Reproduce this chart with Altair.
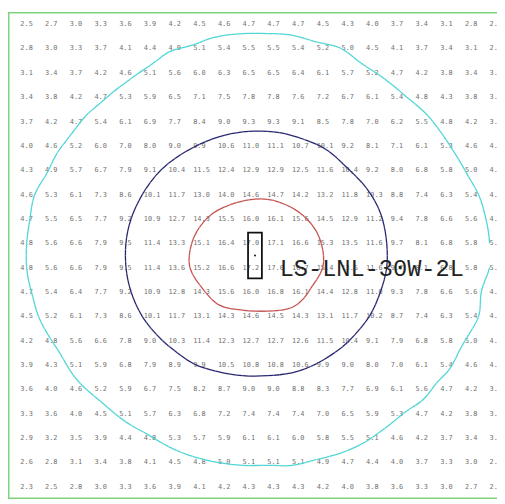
import altair as alt
import numpy as np
import pandas as pd

# Illuminance values (lux) read row by row, top to bottom, left to right
row_00 = [2.5, 2.7, 3.0, 3.3, 3.6, 3.9, 4.2, 4.5, 4.6, 4.7, 4.7, 4.7, 4.5, 4.3, 4.0, 3.7, 3.4, 3.1, 2.8, 2.5]
row_01 = [2.8, 3.0, 3.3, 3.7, 4.1, 4.4, 4.9, 5.1, 5.4, 5.5, 5.5, 5.4, 5.2, 5.0, 4.5, 4.1, 3.7, 3.4, 3.1, 2.8]
row_02 = [3.1, 3.4, 3.7, 4.2, 4.6, 5.1, 5.6, 6.0, 6.3, 6.5, 6.5, 6.4, 6.1, 5.7, 5.2, 4.7, 4.2, 3.8, 3.4, 3.1]
row_03 = [3.4, 3.8, 4.2, 4.7, 5.3, 5.9, 6.5, 7.1, 7.5, 7.8, 7.8, 7.6, 7.2, 6.7, 6.1, 5.4, 4.8, 4.3, 3.8, 3.4]
row_04 = [3.7, 4.2, 4.7, 5.4, 6.1, 6.9, 7.7, 8.4, 9.0, 9.3, 9.3, 9.1, 8.5, 7.8, 7.0, 6.2, 5.5, 4.8, 4.2, 3.7]
row_05 = [4.0, 4.6, 5.2, 6.0, 7.0, 8.0, 9.0, 9.9, 10.6, 11.0, 11.1, 10.7, 10.1, 9.2, 8.1, 7.1, 6.1, 5.3, 4.6, 4.1]
row_06 = [4.3, 4.9, 5.7, 6.7, 7.9, 9.1, 10.4, 11.5, 12.4, 12.9, 12.9, 12.5, 11.6, 10.4, 9.2, 8.0, 6.8, 5.8, 5.0, 4.3]
row_07 = [4.6, 5.3, 6.1, 7.3, 8.6, 10.1, 11.7, 13.0, 14.0, 14.6, 14.7, 14.2, 13.2, 11.8, 10.3, 8.8, 7.4, 6.3, 5.4, 4.7]
row_08 = [4.7, 5.5, 6.5, 7.7, 9.2, 10.9, 12.7, 14.3, 15.5, 16.0, 16.1, 15.6, 14.5, 12.9, 11.2, 9.4, 7.8, 6.6, 5.6, 4.9]
row_09 = [4.8, 5.6, 6.6, 7.9, 9.5, 11.4, 13.3, 15.1, 16.4, 17.0, 17.1, 16.6, 15.3, 13.5, 11.6, 9.7, 8.1, 6.8, 5.8, 5.0]
row_10 = [4.8, 5.6, 6.6, 7.9, 9.5, 11.4, 13.6, 15.2, 16.6, 17.2, 17.6, 16.7, 15.4, 13.6, 11.6, 9.7, 8.1, 6.8, 5.8, 5.0]
row_11 = [4.7, 5.4, 6.4, 7.7, 9.2, 10.9, 12.8, 14.3, 15.6, 16.0, 16.8, 16.1, 14.4, 12.8, 11.0, 9.3, 7.8, 6.6, 5.6, 4.7]
row_12 = [4.5, 5.2, 6.1, 7.3, 8.6, 10.1, 11.7, 13.1, 14.3, 14.6, 14.5, 14.3, 13.1, 11.7, 10.2, 8.7, 7.4, 6.3, 5.4, 4.7]
row_13 = [4.2, 4.8, 5.6, 6.6, 7.8, 9.0, 10.3, 11.4, 12.3, 12.7, 12.7, 12.6, 11.5, 10.4, 9.1, 7.9, 6.8, 5.8, 5.0, 4.4]
row_14 = [3.9, 4.3, 5.1, 5.9, 6.8, 7.9, 8.9, 9.9, 10.5, 10.8, 10.8, 10.6, 9.9, 9.0, 8.0, 7.0, 6.1, 5.4, 4.6, 4.1]
row_15 = [3.6, 4.0, 4.6, 5.2, 5.9, 6.7, 7.5, 8.2, 8.7, 9.0, 9.0, 8.8, 8.3, 7.7, 6.9, 6.1, 5.6, 4.7, 4.2, 3.7]
row_16 = [3.3, 3.6, 4.0, 4.5, 5.1, 5.7, 6.3, 6.8, 7.2, 7.4, 7.4, 7.4, 7.0, 6.5, 5.9, 5.3, 4.7, 4.2, 3.8, 3.4]
row_17 = [2.9, 3.2, 3.5, 3.9, 4.4, 4.8, 5.3, 5.7, 5.9, 6.1, 6.1, 6.0, 5.8, 5.5, 5.1, 4.6, 4.2, 3.7, 3.4, 3.1]
row_18 = [2.6, 2.8, 3.1, 3.4, 3.8, 4.1, 4.5, 4.8, 5.0, 5.1, 5.1, 5.1, 4.9, 4.7, 4.4, 4.0, 3.7, 3.3, 3.0, 2.8]
row_19 = [2.3, 2.5, 2.8, 3.0, 3.3, 3.6, 3.9, 4.1, 4.2, 4.3, 4.3, 4.3, 4.2, 4.0, 3.8, 3.6, 3.3, 3.0, 2.7, 2.5]

rows = [row_00, row_01, row_02, row_03, row_04, row_05, row_06, row_07, row_08, row_09,
        row_10, row_11, row_12, row_13, row_14, row_15, row_16, row_17, row_18, row_19]

# Iso-lux levels and their colours
iso_levels = [5.0, 10.0, 15.0]
iso_colors = ["#4fd5d5", "#26266e", "#c4524f"]

# Luminaire (grid units): centre, half width / half height, label
lum_x = [9.5]
lum_y = [9.5]
lum_half_w = [0.28]
lum_half_h = [0.94]
lum_label = ["LS-LNL-30W-2L"]
label_x = [10.5]
label_y = [10.35]

# Frame of the calculation area (grid units)
frame_x = [-0.5]
frame_x2 = [19.5]
frame_y = [-0.5]
frame_y2 = [19.5]

grid = np.array(rows, dtype=float)
nr, nc = grid.shape

# ---- value labels table
vals = pd.DataFrame(
    [{"x": i, "y": j, "v": grid[j, i], "t": f"{grid[j, i]:.1f}"} for j in range(nr) for i in range(nc)]
)


# ---- smooth (Catmull-Rom) upsample of the grid for nicer iso-lines
def cr_upsample_1d(a, f):
    n = a.shape[-1]
    pad = np.concatenate([2 * a[..., :1] - a[..., 1:2], a, 2 * a[..., -1:] - a[..., -2:-1]], axis=-1)
    out = []
    for k in range(n - 1):
        p0, p1, p2, p3 = pad[..., k], pad[..., k + 1], pad[..., k + 2], pad[..., k + 3]
        for s in range(f):
            t = s / f
            out.append(0.5 * (2 * p1 + (-p0 + p2) * t + (2 * p0 - 5 * p1 + 4 * p2 - p3) * t ** 2
                              + (-p0 + 3 * p1 - 3 * p2 + p3) * t ** 3))
    out.append(a[..., -1])
    return np.stack(out, axis=-1)


F = 4
fine = cr_upsample_1d(grid, F)              # along columns
fine = cr_upsample_1d(fine.T, F).T          # along rows

segs = []
fr, fc = fine.shape
for lv in iso_levels:
    for j in range(fr - 1):
        for i in range(fc - 1):
            corners = [(i, j), (i + 1, j), (i + 1, j + 1), (i, j + 1)]
            cv = [fine[j, i], fine[j, i + 1], fine[j + 1, i + 1], fine[j + 1, i]]
            pts = []
            for e in range(4):
                a, b = e, (e + 1) % 4
                va, vb = cv[a] - lv, cv[b] - lv
                if (va < 0) != (vb < 0):
                    t = va / (va - vb)
                    xa, ya = corners[a]
                    xb, yb = corners[b]
                    pts.append(((xa + t * (xb - xa)) / F, (ya + t * (yb - ya)) / F))
            pairs = []
            if len(pts) == 2:
                pairs = [(0, 1)]
            elif len(pts) == 4:
                pairs = [(0, 1), (2, 3)]
            for p, q in pairs:
                segs.append({"x": pts[p][0], "y": pts[p][1], "x2": pts[q][0], "y2": pts[q][1],
                             "level": f"{lv:g}"})
seg_df = pd.DataFrame(segs)

xs = alt.Scale(domain=[-0.5, 19.3], nice=False, zero=False)
ys = alt.Scale(domain=[-0.5, 19.5], reverse=True, nice=False, zero=False)

frame_df = pd.DataFrame({"x": frame_x, "x2": frame_x2, "y": frame_y, "y2": frame_y2})
frame = alt.Chart(frame_df).mark_rect(
    fillOpacity=0, stroke="#7fd37f", strokeWidth=3, clip=True
).encode(
    x=alt.X("x:Q", scale=xs, axis=None), x2="x2:Q",
    y=alt.Y("y:Q", scale=ys, axis=None), y2="y2:Q",
)

values = alt.Chart(vals).mark_text(
    align="left", baseline="middle", font="DejaVu Sans Mono", fontSize=7, color="#707070", clip=True
).encode(
    x=alt.X("x:Q", scale=xs, axis=None),
    y=alt.Y("y:Q", scale=ys, axis=None),
    text="t:N",
)

iso = alt.Chart(seg_df).mark_rule(strokeWidth=1.3, clip=True).encode(
    x=alt.X("x:Q", scale=xs, axis=None), x2="x2:Q",
    y=alt.Y("y:Q", scale=ys, axis=None), y2="y2:Q",
    color=alt.Color("level:N", scale=alt.Scale(domain=[f"{v:g}" for v in iso_levels], range=iso_colors),
                    legend=None),
)

lum_df = pd.DataFrame({
    "x": [lum_x[0] - lum_half_w[0]], "x2": [lum_x[0] + lum_half_w[0]],
    "y": [lum_y[0] - lum_half_h[0]], "y2": [lum_y[0] + lum_half_h[0]],
    "cx": lum_x, "cy": lum_y,
})
lum = alt.Chart(lum_df).mark_rect(fillOpacity=0, stroke="#111111", strokeWidth=1.8).encode(
    x=alt.X("x:Q", scale=xs, axis=None), x2="x2:Q",
    y=alt.Y("y:Q", scale=ys, axis=None), y2="y2:Q",
)
dot = alt.Chart(lum_df).mark_point(filled=True, size=4, color="#111111", opacity=1).encode(
    x=alt.X("cx:Q", scale=xs, axis=None),
    y=alt.Y("cy:Q", scale=ys, axis=None),
)

lab_df = pd.DataFrame({"x": label_x, "y": label_y, "t": lum_label})
label = alt.Chart(lab_df).mark_text(
    align="left", baseline="alphabetic", font="Liberation Mono", fontSize=24, color="#222222"
).encode(
    x=alt.X("x:Q", scale=xs, axis=None),
    y=alt.Y("y:Q", scale=ys, axis=None),
    text="t:N",
)

chart = alt.layer(frame, values, iso, lum, dot, label).properties(
    width=497, height=495, padding=0, background="white"
).configure_view(stroke=None)

chart.save("out.html", embed_options={"renderer": "svg", "actions": False})
